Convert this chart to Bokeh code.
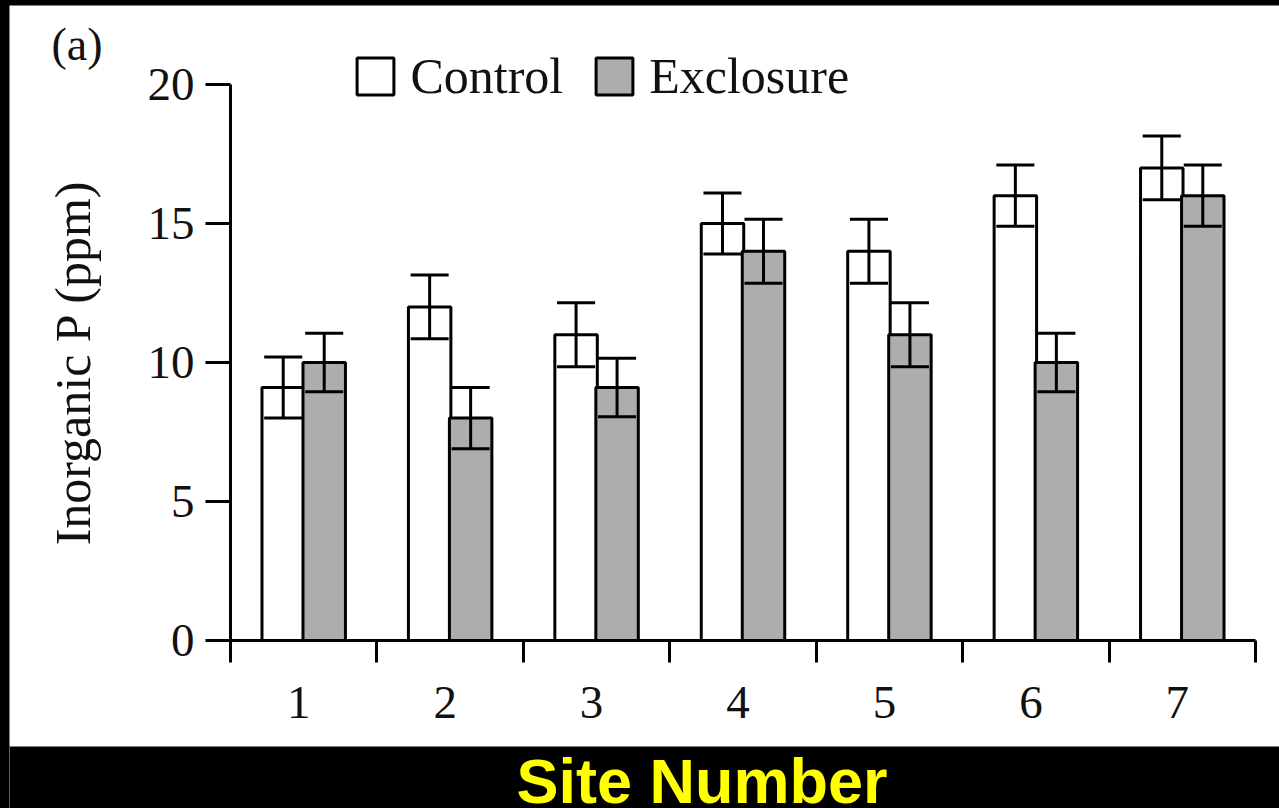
from bokeh.plotting import figure
from bokeh.models import (Range1d, FixedTicker, LinearAxis, Legend, LegendItem,
                          GlobalInlineStyleSheet)
from bokeh.core.properties import value
from bokeh.embed import file_html
from bokeh.resources import INLINE

# ---------------- data ----------------
sites = [1, 2, 3, 4, 5, 6, 7]
site_labels = ["1", "2", "3", "4", "5", "6", "7"]
control = [9.1, 12.0, 11.0, 15.0, 14.0, 16.0, 17.0]
control_err = [1.1, 1.15, 1.15, 1.1, 1.15, 1.1, 1.15]
exclosure = [10.0, 8.0, 9.1, 14.0, 11.0, 10.0, 16.0]
exclosure_err = [1.05, 1.1, 1.05, 1.15, 1.15, 1.05, 1.1]
y_ticks = [0, 5, 10, 15, 20]
series_names = ["Control", "Exclosure"]
y_label = "Inorganic P (ppm)"
x_label = "Site Number"
panel_tag = "(a)"

# ---------------- layout (page pixels) ----------------
PAGE_L, PAGE_T = 9, 5          # figure origin on the page
FIG_W, FIG_H = 1270, 803       # figure size (down to page bottom)
WHITE_BOTTOM = 746             # page y where the white panel ends
AX_X0, AX_X1 = 230, 1255       # page x of site range edges
AX_Y0, AX_Y1 = 640, 84         # page y of 0 and 20
X_LO, X_HI = sites[0] - 0.5, sites[-1] + 0.5
Y_LO, Y_HI = y_ticks[0], y_ticks[-1]

sx = (AX_X1 - AX_X0) / (X_HI - X_LO)
sy = (AX_Y0 - AX_Y1) / (Y_HI - Y_LO)
x_start = X_LO - (AX_X0 - PAGE_L) / sx
x_end = X_HI + (PAGE_L + FIG_W - AX_X1) / sx
y_start = Y_LO - (PAGE_T + FIG_H - AX_Y0) / sy
y_end = Y_HI + (AX_Y1 - PAGE_T) / sy


def px2x(px):
    return X_LO + (px - AX_X0) / sx


def py2y(py):
    return Y_LO + (AX_Y0 - py) / sy


# ---------------- style ----------------
SERIF = "Liberation Serif"
TXT = "#111111"
GREY = "#adadad"
BAR_W = 0.29
OFF = 0.14
CAP = 0.13
LW = 3
LABEL_DX = 0.034   # small leftward nudge of the site labels

p = figure(width=FIG_W, height=FIG_H, x_range=Range1d(x_start, x_end),
           y_range=Range1d(y_start, y_end),
           output_backend="svg", toolbar_location=None,
           x_axis_type=None, y_axis_type=None, min_border=0,
           background_fill_color="white", border_fill_color="white",
           outline_line_color=None)
p.grid.visible = False
p.title.visible = False

# black band at the bottom (decoration behind the x label)
p.quad(left=[x_start], right=[x_end], bottom=[y_start], top=[py2y(WHITE_BOTTOM)],
       fill_color="black", line_color=None, level="underlay")

# y axis
yaxis = LinearAxis(ticker=FixedTicker(ticks=y_ticks, minor_ticks=[]),
                   axis_label=y_label, fixed_location=X_LO, bounds=(Y_LO, Y_HI))
yaxis.axis_line_width = LW
yaxis.major_tick_line_width = LW
yaxis.major_tick_out = 25
yaxis.major_tick_in = 0
yaxis.minor_tick_out = 0
yaxis.minor_tick_in = 0
yaxis.major_label_standoff = 11
yaxis.major_label_text_font = SERIF
yaxis.major_label_text_font_size = "47px"
yaxis.major_label_text_color = TXT
yaxis.axis_label_text_font = SERIF
yaxis.axis_label_text_font_size = "50px"
yaxis.axis_label_text_font_style = "normal"
yaxis.axis_label_text_color = TXT
yaxis.axis_label_standoff = 44
p.add_layout(yaxis, "left")

# x axis with ticks at category boundaries
bounds = [s - 0.5 for s in sites] + [sites[-1] + 0.5]
xb = LinearAxis(ticker=FixedTicker(ticks=bounds, minor_ticks=[]),
                fixed_location=Y_LO, bounds=(X_LO, X_HI))
xb.major_label_overrides = {b: "" for b in bounds}
xb.axis_line_width = LW
xb.major_tick_line_width = LW
xb.major_tick_out = 22
xb.major_tick_in = 0
xb.minor_tick_out = 0
xb.minor_tick_in = 0
xb.major_label_standoff = 0
xb.major_label_text_font_size = "2px"
p.add_layout(xb, "below")

# x axis with labels at category centres
label_pos = [s - LABEL_DX for s in sites]
xl = LinearAxis(ticker=FixedTicker(ticks=label_pos, minor_ticks=[]),
                fixed_location=Y_LO, bounds=(X_LO, X_HI))
xl.major_label_overrides = {t: lab for t, lab in zip(label_pos, site_labels)}
xl.axis_line_color = None
xl.major_tick_line_color = None
xl.major_tick_out = 0
xl.major_tick_in = 0
xl.minor_tick_out = 0
xl.minor_tick_in = 0
xl.major_label_standoff = 46
xl.major_label_text_font = SERIF
xl.major_label_text_font_size = "47px"
xl.major_label_text_color = TXT
p.add_layout(xl, "below")

# bars
xc = [s - OFF for s in sites]
xe = [s + OFF for s in sites]
rc = p.vbar(x=xc, top=control, bottom=0, width=BAR_W, fill_color="white",
            line_color="black", line_width=LW)
re_ = p.vbar(x=xe, top=exclosure, bottom=0, width=BAR_W, fill_color=GREY,
             line_color="black", line_width=LW)


def error_bars(xs, vals, errs):
    lo = [v - e for v, e in zip(vals, errs)]
    hi = [v + e for v, e in zip(vals, errs)]
    p.segment(x0=xs, y0=lo, x1=xs, y1=hi, line_color="black", line_width=LW)
    xl0 = [x - CAP for x in xs]
    xl1 = [x + CAP for x in xs]
    p.segment(x0=xl0, y0=hi, x1=xl1, y1=hi, line_color="black", line_width=LW)
    p.segment(x0=xl0, y0=lo, x1=xl1, y1=lo, line_color="black", line_width=LW)


error_bars(xc, control, control_err)
error_bars(xe, exclosure, exclosure_err)

# panel tag "(a)"
p.text(x=[px2x(51)], y=[py2y(44)], text=[panel_tag], text_align="left",
       text_baseline="alphabetic", text_font=value(SERIF),
       text_font_size="46px", text_color=TXT)

# x label in the black band
p.text(x=[px2x(701.5)], y=[py2y(780)], text=[x_label], text_align="center",
       text_baseline="alphabetic", text_font=value("Liberation Sans"),
       text_font_style="bold", text_font_size="63px", text_color="#ffff00")

# legend (screen px from the bottom-left of the frame)
legend = Legend(items=[LegendItem(label=series_names[0], renderers=[rc]),
                       LegendItem(label=series_names[1], renderers=[re_])],
                location=(352.4 - PAGE_L, PAGE_T + FIG_H - 104.6),
                orientation="horizontal",
                glyph_width=46, glyph_height=46, label_standoff=12, spacing=28,
                padding=0, margin=0, border_line_color=None,
                background_fill_alpha=0,
                label_text_font=SERIF, label_text_font_size="50px",
                label_text_color=TXT)
p.add_layout(legend)

css = """
html, body { background: #000000 !important; }
body { padding: %dpx 0 0 %dpx !important; box-sizing: border-box !important; overflow: hidden; }
""" % (PAGE_T, PAGE_L)
p.stylesheets = [GlobalInlineStyleSheet(css=css)]

open("out.html", "w").write(file_html(p, INLINE))
